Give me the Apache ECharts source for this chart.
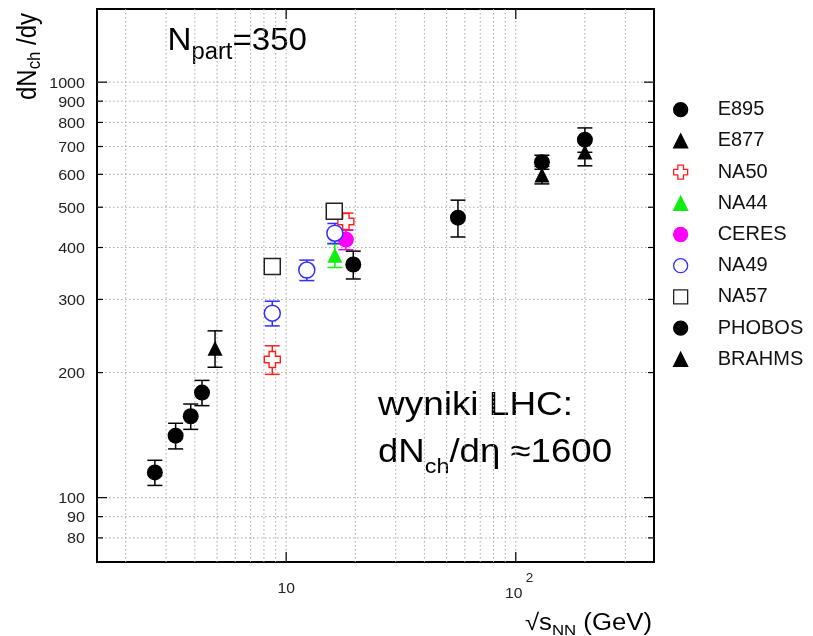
<!DOCTYPE html>
<html>
<head>
<meta charset="utf-8">
<script src="https://cdn.jsdelivr.net/npm/echarts@6/dist/echarts.min.js"></script>
<style>
  html, body { margin: 0; padding: 0; background: #fff; }
  #chart { width: 813px; height: 636px; }
</style>
</head>
<body>
<div id="chart"></div>
<script>
// Charged-particle multiplicity dN_ch/dy versus sqrt(s_NN), central collisions (N_part = 350)

// --- measurements: energy (GeV), dN/dy, error ---
const E895_x = [2.68, 3.30, 3.84, 4.30];
const E895_y = [115, 141, 157, 179];
const E895_err = [8, 10, 11, 12.5];

const E877_x = [4.9];
const E877_y = [229];
const E877_err = [23];

const NA50_x = [8.7, 18.2];
const NA50_y = [215, 462];
const NA50_err = [17, 22];

const NA44_x = [16.3];
const NA44_y = [383];
const NA44_err = [25];

const CERES_x = [18.2];
const CERES_y = [418];
const CERES_err = [23];

const NA49_x = [8.7, 12.3, 16.3];
const NA49_y = [278, 353, 433];
const NA49_err = [19, 20, 24];

const NA57_x = [8.7, 16.2];
const NA57_y = [360, 489];

const PHOBOS_x = [19.6, 56, 130, 200];
const PHOBOS_y = [364, 472, 642, 727];
const PHOBOS_err = [28, 48, 25, 49];

const BRAHMS_x = [130, 200];
const BRAHMS_y = [598, 679];
const BRAHMS_err = [29, 50];

// --- axes ---
const X_MIN = 1.5, X_MAX = 400;
const Y_MIN = 70, Y_MAX = 1500;
const xGridValues = [2, 3, 4, 5, 6, 7, 8, 9, 10, 20, 30, 40, 50, 60, 70, 80, 90, 100, 200, 300];
const xTickValues = [10, 100];
const xTickBase = ['10', '10'];
const xTickExp = ['', '2'];
const yGridValues = [80, 90, 100, 200, 300, 400, 500, 600, 700, 800, 900, 1000];
const yTickLabels = ['80', '90', '100', '200', '300', '400', '500', '600', '700', '800', '900', '1000'];

const FONT = '"Liberation Sans", Arial, Helvetica, sans-serif';
const crossPath = 'path://M3,0H7V3H10V7H7V10H3V7H0V3H3Z';

const experiments = [
  { name: 'E895', x: E895_x, y: E895_y, err: E895_err, symbol: 'circle', size: 16, fill: '#000', stroke: '#000', bw: 0 },
  { name: 'E877', x: E877_x, y: E877_y, err: E877_err, symbol: 'triangle', size: 15, fill: '#000', stroke: '#000', bw: 0 },
  { name: 'NA50', x: NA50_x, y: NA50_y, err: NA50_err, symbol: crossPath, size: 16, fill: '#fff', stroke: '#ff1f1f', bw: 1.4 },
  { name: 'NA44', x: NA44_x, y: NA44_y, err: NA44_err, symbol: 'triangle', size: 15, fill: '#11ee11', stroke: '#11ee11', bw: 0 },
  { name: 'CERES', x: CERES_x, y: CERES_y, err: CERES_err, symbol: 'circle', size: 16, fill: '#ff00ff', stroke: '#ff00ff', bw: 0 },
  { name: 'NA49', x: NA49_x, y: NA49_y, err: NA49_err, symbol: 'circle', size: 16, fill: '#fff', stroke: '#2f2fff', bw: 1.5 },
  { name: 'NA57', x: NA57_x, y: NA57_y, err: null, symbol: 'rect', size: 16, fill: '#fff', stroke: '#222', bw: 1.5 },
  { name: 'PHOBOS', x: PHOBOS_x, y: PHOBOS_y, err: PHOBOS_err, symbol: 'circle', size: 16, fill: '#000', stroke: '#000', bw: 0 },
  { name: 'BRAHMS', x: BRAHMS_x, y: BRAHMS_y, err: BRAHMS_err, symbol: 'triangle', size: 15, fill: '#000', stroke: '#000', bw: 0 }
];

// text measuring for multi-size runs (sub/superscripts)
const mctx = document.createElement('canvas').getContext('2d');
function fontOf(s) { return s + 'px ' + FONT; }
function textRun(parts, opt) {
  let cx = 0;
  const children = [];
  parts.forEach(function (p) {
    mctx.font = fontOf(p.s);
    mctx.textBaseline = 'middle';
    const w = mctx.measureText(p.t).width;
    const d = mctx.measureText('H').actualBoundingBoxDescent;
    children.push({
      type: 'text', x: cx, y: (p.dy || 0) - d,
      style: { text: p.t, font: fontOf(p.s), fill: opt.color || '#000', align: 'left', verticalAlign: 'middle' }
    });
    cx += w;
  });
  return {
    type: 'group', x: opt.x, y: opt.y, rotation: opt.rotation || 0,
    scaleX: opt.width ? opt.width / cx : 1, scaleY: opt.scaleY || 1,
    z: 20, children: children
  };
}

const dotted = { stroke: '#a8a8a8', lineWidth: 1, lineDash: [1.5, 2.5] };
const tickStyle = { stroke: '#000', lineWidth: 1.2 };
function isDecade(v) { return Math.abs(Math.log10(v) - Math.round(Math.log10(v))) < 1e-9; }

// horizontal grid lines, side ticks and y labels
const yGuideSeries = {
  type: 'custom', name: 'yGuides', silent: true, clip: false, z: 1,
  data: yGridValues.map(function (v) { return [X_MIN, v]; }),
  encode: { x: 0, y: 1 },
  renderItem: function (params, api) {
    const cs = params.coordSys;
    const v = api.value(1);
    const py = api.coord([X_MIN, v])[1];
    const len = isDecade(v) ? 10 : 6;
    return {
      type: 'group', children: [
        { type: 'line', shape: { x1: cs.x, y1: py, x2: cs.x + cs.width, y2: py }, style: dotted },
        { type: 'line', shape: { x1: cs.x, y1: py, x2: cs.x + len, y2: py }, style: tickStyle },
        { type: 'line', shape: { x1: cs.x + cs.width - len, y1: py, x2: cs.x + cs.width, y2: py }, style: tickStyle },
        {
          type: 'text', x: cs.x - 12, y: py + 1.5, scaleX: 1.15,
          style: { text: yTickLabels[params.dataIndex], font: fontOf(14), fill: '#222', align: 'right', verticalAlign: 'middle' }
        }
      ]
    };
  }
};

// vertical grid lines, decade ticks and x labels
const xGuideSeries = {
  type: 'custom', name: 'xGuides', silent: true, clip: false, z: 1,
  data: xGridValues.map(function (v) { return [v, Y_MIN]; }),
  encode: { x: 0, y: 1 },
  renderItem: function (params, api) {
    const cs = params.coordSys;
    const v = api.value(0);
    const px = api.coord([v, Y_MIN])[0];
    const bottom = cs.y + cs.height;
    const children = [
      { type: 'line', shape: { x1: px, y1: cs.y, x2: px, y2: bottom }, style: dotted }
    ];
    if (isDecade(v)) {
      children.push(
        { type: 'line', shape: { x1: px, y1: bottom - 10, x2: px, y2: bottom }, style: tickStyle },
        { type: 'line', shape: { x1: px, y1: cs.y, x2: px, y2: cs.y + 10 }, style: tickStyle }
      );
    }
    const k = xTickValues.indexOf(v);
    if (k >= 0) {
      const hasExp = xTickExp[k] !== '';
      children.push({
        type: 'text', x: px + (hasExp ? -2 : 0), y: bottom + (hasExp ? 32 : 27), scaleX: 1.12,
        style: { text: xTickBase[k], font: fontOf(14), fill: '#222', align: 'center', verticalAlign: 'middle' }
      });
      if (hasExp) {
        children.push({
          type: 'text', x: px + 10, y: bottom + 17, scaleX: 1.12,
          style: { text: xTickExp[k], font: fontOf(12), fill: '#222', align: 'left', verticalAlign: 'middle' }
        });
      }
    }
    return { type: 'group', children: children };
  }
};

function errorBarRenderer(color) {
  return function (params, api) {
    const xv = api.value(0);
    const lo = api.coord([xv, api.value(1)]);
    const hi = api.coord([xv, api.value(2)]);
    const h = 7.5;
    const st = { stroke: color, lineWidth: 1.5 };
    return {
      type: 'group', children: [
        { type: 'line', shape: { x1: lo[0], y1: lo[1], x2: hi[0], y2: hi[1] }, style: st },
        { type: 'line', shape: { x1: lo[0] - h, y1: lo[1], x2: lo[0] + h, y2: lo[1] }, style: st },
        { type: 'line', shape: { x1: hi[0] - h, y1: hi[1], x2: hi[0] + h, y2: hi[1] }, style: st }
      ]
    };
  };
}

const dataSeries = [];
experiments.forEach(function (e) {
  if (e.err) {
    dataSeries.push({
      type: 'custom', name: e.name + ' errors', silent: true, z: 3,
      data: e.x.map(function (v, i) { return [v, e.y[i] - e.err[i], e.y[i] + e.err[i]]; }),
      encode: { x: 0, y: [1, 2] },
      renderItem: errorBarRenderer(e.stroke)
    });
  }
  dataSeries.push({
    type: 'scatter', name: e.name, z: 3,
    symbol: e.symbol, symbolSize: e.size,
    data: e.x.map(function (v, i) { return [v, e.y[i]]; }),
    itemStyle: { color: e.fill, borderColor: e.stroke, borderWidth: e.bw, opacity: 1 }
  });
});

const chart = echarts.init(document.getElementById('chart'), null, { renderer: 'canvas' });
chart.setOption({
  animation: false,
  backgroundColor: '#fff',
  textStyle: { fontFamily: FONT },
  grid: { left: 97, top: 9, width: 557, height: 553, show: true, borderColor: '#000', borderWidth: 2, backgroundColor: 'transparent' },
  xAxis: {
    type: 'log', logBase: 10, min: X_MIN, max: X_MAX,
    axisLine: { show: false }, axisTick: { show: false }, axisLabel: { show: false }, splitLine: { show: false }
  },
  yAxis: {
    type: 'log', logBase: 10, min: Y_MIN, max: Y_MAX,
    axisLine: { show: false }, axisTick: { show: false }, axisLabel: { show: false }, splitLine: { show: false }
  },
  legend: {
    orient: 'vertical', left: 668, top: 94.7,
    itemWidth: 14, itemHeight: 14, itemGap: 11.2,
    selectedMode: false,
    data: experiments.map(function (e) { return e.name; }),
    itemStyle: { borderWidth: 1.3 },
    textStyle: { fontFamily: FONT, fontSize: 20, color: '#111', lineHeight: 14, padding: [0, 0, 0, 25] }
  },
  series: [yGuideSeries, xGuideSeries].concat(dataSeries),
  graphic: [
    textRun([{ t: 'N', s: 32 }, { t: 'part', s: 23, dy: 9 }, { t: '=350', s: 32 }], { x: 167.5, y: 50, width: 139.5 }),
    textRun([{ t: 'wyniki LHC:', s: 33 }], { x: 378, y: 415, width: 195 }),
    textRun([{ t: 'dN', s: 33 }, { t: 'ch', s: 21, dy: 11 }, { t: '/dη ≈1600', s: 33 }], { x: 378, y: 462, width: 234 }),
    textRun([{ t: '√s', s: 23 }, { t: 'NN', s: 15, dy: 5.5 }, { t: ' (GeV)', s: 23 }], { x: 525, y: 629.5, width: 127 }),
    textRun([{ t: 'dN', s: 20 }, { t: 'ch', s: 14, dy: 3 }, { t: ' /dy', s: 20 }], { x: 35.5, y: 100, rotation: Math.PI / 2, width: 87, scaleY: 1.35 })
  ]
});
</script>
</body>
</html>
